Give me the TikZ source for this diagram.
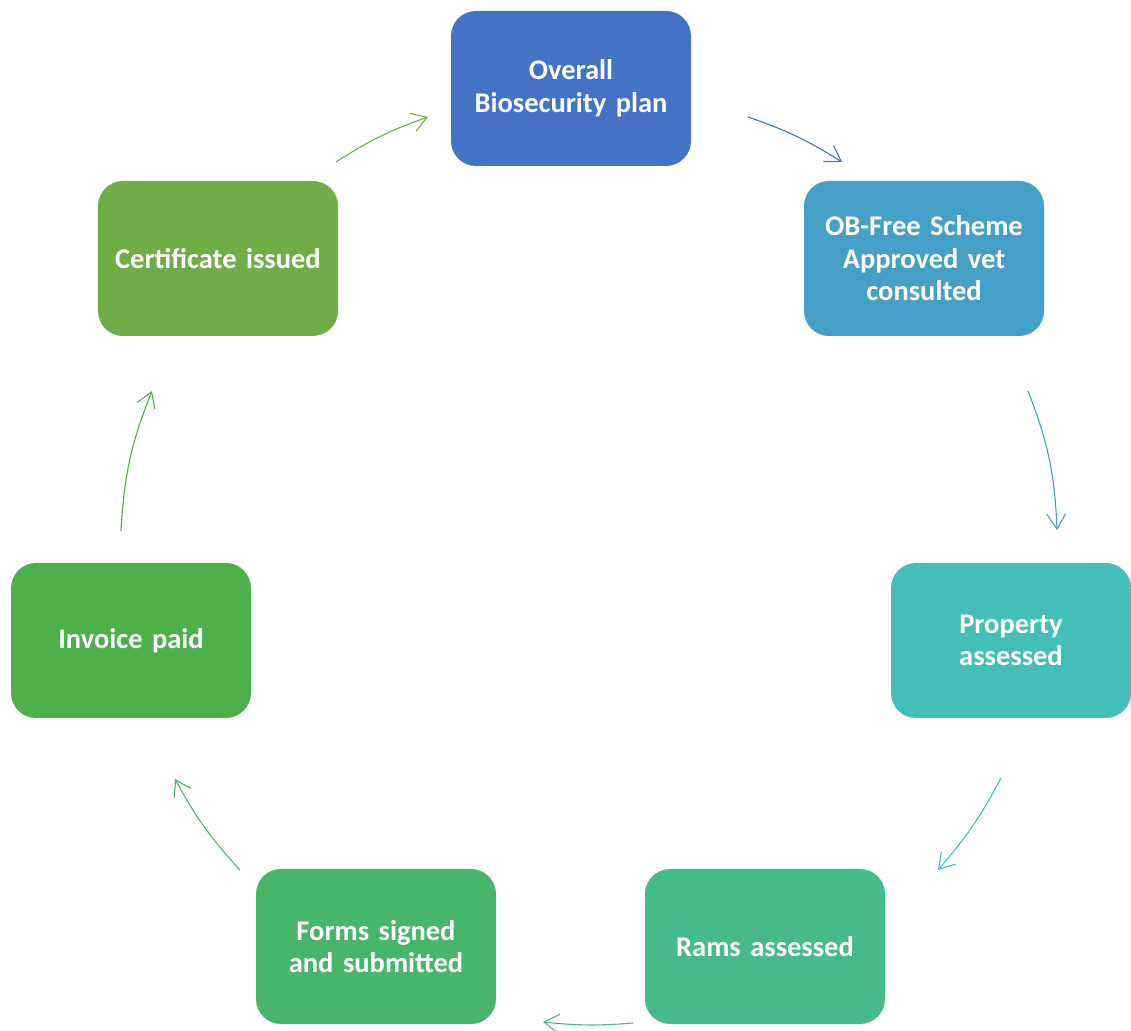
\documentclass[tikz,border=0pt]{standalone}
\usepackage{fontspec}
\setmainfont{Carlito}
\usetikzlibrary{arrows.meta}
\definecolor{cA}{HTML}{4472C4}
\definecolor{cB}{HTML}{459FC7}
\definecolor{cC}{HTML}{44BEB9}
\definecolor{cD}{HTML}{45BB8B}
\definecolor{cE}{HTML}{47B66B}
\definecolor{cF}{HTML}{4EB04A}
\definecolor{cG}{HTML}{70AD47}
\tikzset{
  box/.style={rounded corners=25pt, minimum width=240pt, minimum height=155pt,
    inner sep=0pt, text=white, align=center, text width=232pt,
    font=\fontsize{28.5pt}{32.5pt}\selectfont\bfseries},
  arr/.style={line width=1.1pt, -{Straight Barb[length=15pt,width=19pt,line width=1.1pt]}}
}
\begin{document}
\begin{tikzpicture}[x=1pt,y=1pt]
\useasboundingbox (0,0) rectangle (1131,1030);
\node[box, fill=cA] (top) at (571,941.5) {Overall\\Biosecurity plan};
\node[box, fill=cB] (ob) at (924,771.5) {OB-Free Scheme\\Approved vet\\consulted};
\node[box, fill=cC] (prop) at (1011,389.5) {Property\\assessed};
\node[box, fill=cD] (rams) at (765,83.5) {Rams assessed};
\node[box, fill=cE] (forms) at (376,83.5) {Forms signed\\and submitted};
\node[box, fill=cF] (inv) at (131,389.5) {Invoice paid};
\node[box, fill=cG] (cert) at (218,771.5) {Certificate issued};
\coordinate (a1s) at (748,913); \coordinate (a1e) at (842,868);
\coordinate (a2s) at (1028,639); \coordinate (a2e) at (1057,500);
\coordinate (a3s) at (1001,252); \coordinate (a3e) at (938,160);
\coordinate (a4s) at (633,7); \coordinate (a4e) at (543,8);
\coordinate (a5s) at (240,160); \coordinate (a5e) at (175,251);
\coordinate (a6s) at (121,499); \coordinate (a6e) at (152,639);
\coordinate (a7s) at (336,868); \coordinate (a7e) at (428,913);
\draw[arr, cA] (a1s) to[bend left=6.5] (a1e);
\draw[arr, cB] (a2s) to[bend left=9.5] (a2e);
\draw[arr, cC] (a3s) to[bend left=6.5] (a3e);
\draw[arr, cD] (a4s) to[bend left=5.3] (a4e);
\draw[arr, cE] (a5s) to[bend left=7] (a5e);
\draw[arr, cF] (a6s) to[bend left=9.3] (a6e);
\draw[arr, cG] (a7s) to[bend left=6.7] (a7e);
\end{tikzpicture}
\end{document}
